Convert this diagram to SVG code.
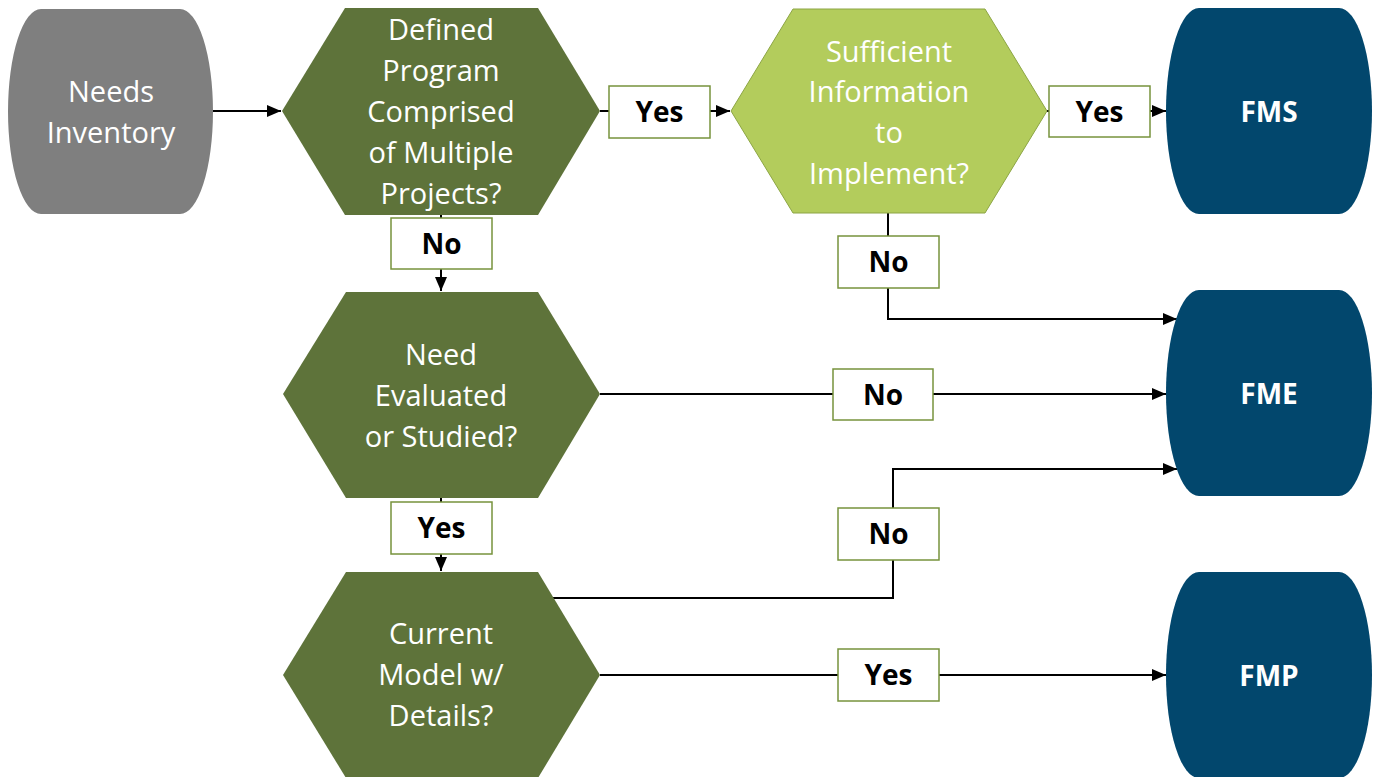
<svg xmlns="http://www.w3.org/2000/svg" width="1376" height="777" viewBox="0 0 1376 777">
<defs>
<style>
.t{font-family:"Open Sans","Liberation Sans",sans-serif;font-size:29px;fill:#fff;text-anchor:middle}
.b{font-family:"Open Sans","Liberation Sans",sans-serif;font-size:28px;font-weight:bold;text-anchor:middle}
.lbl{fill:#fff;stroke:#77933C;stroke-width:1.5}
.dk{fill:#5E733A}
.blue{fill:#02476D}
.ln{fill:none;stroke:#000;stroke-width:2}
</style>
<marker id="ah" markerUnits="userSpaceOnUse" markerWidth="15" markerHeight="12" refX="14" refY="6" orient="auto">
<path d="M0,0 L14,6 L0,12 Z" fill="#000"/>
</marker>
</defs>
<rect width="1376" height="777" fill="#fff"/>
<g id="connectors">
<path class="ln" d="M213,111 H281" marker-end="url(#ah)"/>
<path class="ln" d="M600,111 H730" marker-end="url(#ah)"/>
<path class="ln" d="M1047,111 H1166" marker-end="url(#ah)"/>
<path class="ln" d="M441,215 V291" marker-end="url(#ah)"/>
<path class="ln" d="M888,213 V319 H1177" marker-end="url(#ah)"/>
<path class="ln" d="M600,394 H1166" marker-end="url(#ah)"/>
<path class="ln" d="M441,498 V571" marker-end="url(#ah)"/>
<path class="ln" d="M553,598 H893 V469 H1177" marker-end="url(#ah)"/>
<path class="ln" d="M600,675 H1166" marker-end="url(#ah)"/>
</g>
<g id="needs-inventory">
<path d="M41,9 L180,9 A33 102.5 0 0 1 180,214 L41,214 A33 102.5 0 0 1 41,9 Z" fill="#7F7F7F"/>
<text class="t" x="111" y="102">Needs</text>
<text class="t" x="111" y="143">Inventory</text>
</g>
<g id="defined-program">
<path class="dk" d="M282,111 L345,8 L538,8 L600,111 L538,215 L345,215 Z"/>
<text class="t" x="441" y="40">Defined</text>
<text class="t" x="441" y="81">Program</text>
<text class="t" x="441" y="122">Comprised</text>
<text class="t" x="441" y="163">of Multiple</text>
<text class="t" x="441" y="204">Projects?</text>
</g>
<g id="sufficient-info">
<path d="M731,111 L793,9 L985,9 L1047,111 L985,213 L793,213 Z" fill="#B3CC5C" stroke="#8CA544" stroke-width="1"/>
<text class="t" x="889" y="62">Sufficient</text>
<text class="t" x="889" y="102">Information</text>
<text class="t" x="889" y="143">to</text>
<text class="t" x="889" y="184">Implement?</text>
</g>
<g id="need-evaluated">
<path class="dk" d="M283,394 L346,292 L538,292 L600,394 L538,498 L346,498 Z"/>
<text class="t" x="441" y="365">Need</text>
<text class="t" x="441" y="406">Evaluated</text>
<text class="t" x="441" y="447">or Studied?</text>
</g>
<g id="current-model">
<path class="dk" d="M283,675 L346,572 L538,572 L600,675 L538,778 L346,778 Z"/>
<text class="t" x="441" y="644">Current</text>
<text class="t" x="441" y="685">Model w/</text>
<text class="t" x="441" y="726">Details?</text>
</g>
<g id="fms">
<path class="blue" d="M1199,8 L1339,8 A33 103 0 0 1 1339,214 L1199,214 A33 103 0 0 1 1199,8 Z"/>
<text class="b" x="1269" y="122" fill="#fff">FMS</text>
</g>
<g id="fme">
<path class="blue" d="M1199,290 L1339,290 A33 103 0 0 1 1339,496 L1199,496 A33 103 0 0 1 1199,290 Z"/>
<text class="b" x="1269" y="404" fill="#fff">FME</text>
</g>
<g id="fmp">
<path class="blue" d="M1199,572 L1339,572 A33 103 0 0 1 1339,778 L1199,778 A33 103 0 0 1 1199,572 Z"/>
<text class="b" x="1269" y="686" fill="#fff">FMP</text>
</g>
<g id="label-yes-1">
<rect class="lbl" x="609" y="86" width="101" height="52"/>
<text class="b" x="659.5" y="122">Yes</text>
</g>
<g id="label-yes-2">
<rect class="lbl" x="1049" y="86" width="101" height="51"/>
<text class="b" x="1099.5" y="122">Yes</text>
</g>
<g id="label-no-1">
<rect class="lbl" x="391" y="218" width="101" height="51"/>
<text class="b" x="441.5" y="254">No</text>
</g>
<g id="label-no-2">
<rect class="lbl" x="838" y="236" width="101" height="52"/>
<text class="b" x="888.5" y="272">No</text>
</g>
<g id="label-no-3">
<rect class="lbl" x="833" y="369" width="100" height="51"/>
<text class="b" x="883" y="405">No</text>
</g>
<g id="label-yes-3">
<rect class="lbl" x="391" y="502" width="101" height="52"/>
<text class="b" x="441.5" y="538">Yes</text>
</g>
<g id="label-no-4">
<rect class="lbl" x="838" y="508" width="101" height="52"/>
<text class="b" x="888.5" y="544">No</text>
</g>
<g id="label-yes-4">
<rect class="lbl" x="838" y="649" width="101" height="52"/>
<text class="b" x="888.5" y="685">Yes</text>
</g>
</svg>
